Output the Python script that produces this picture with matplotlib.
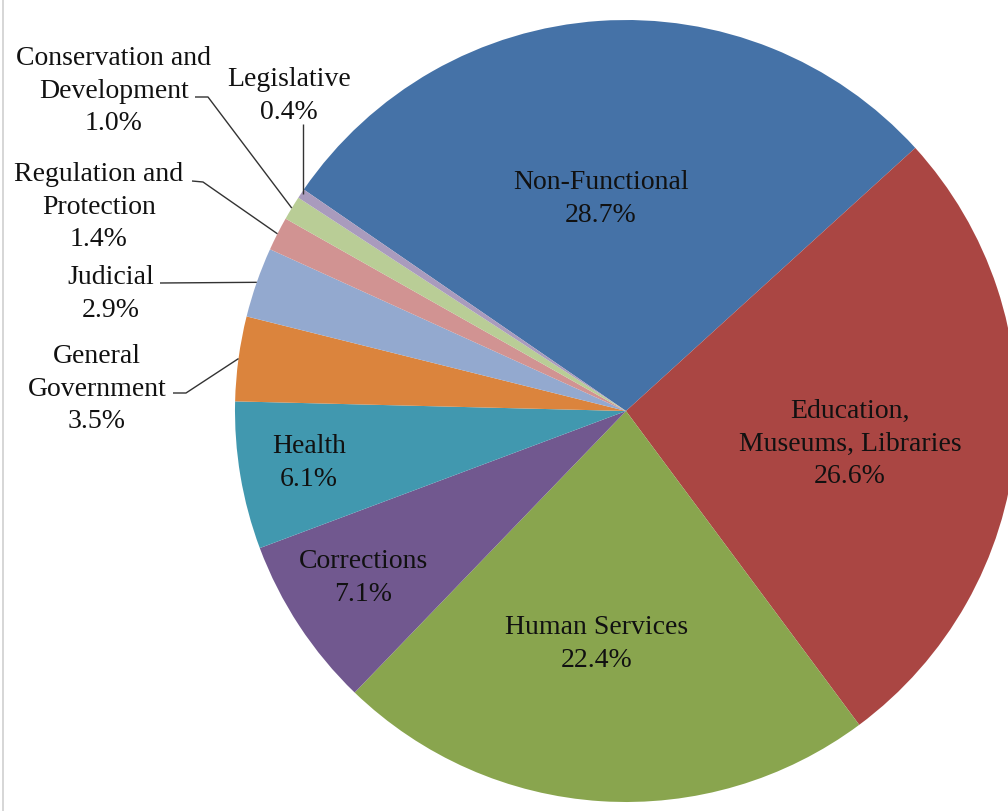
import matplotlib
matplotlib.use("Agg")
import matplotlib.pyplot as plt
from matplotlib.lines import Line2D
import numpy as np

# ---- data ----
categories = ["Non-Functional", "Education,\nMuseums, Libraries", "Human Services",
              "Corrections", "Health", "General\nGovernment", "Judicial",
              "Regulation and\nProtection", "Conservation and\nDevelopment", "Legislative"]
shares = [28.7, 26.6, 22.4, 7.1, 6.1, 3.5, 2.9, 1.4, 1.0, 0.4]
colors = ["#4572A7", "#AA4643", "#89A54E", "#71588F", "#4198AF",
          "#DB843D", "#93A9CF", "#D19392", "#B9CD96", "#A99BBD"]

W, H = 1008, 811
fig = plt.figure(figsize=(W / 100, H / 100), dpi=100)
ax = fig.add_axes([0, 0, 1, 1])

cx, cy_top, R = 626, 411, 391
cy = H - cy_top
start = 145.5

wedges, _ = ax.pie(shares, colors=colors, startangle=start, counterclock=False,
                   center=(cx, cy), radius=R, wedgeprops=dict(linewidth=0))
ax.set_xlim(0, W)
ax.set_ylim(0, H)
ax.set_aspect("equal")
ax.axis("off")

font = dict(family="Liberation Serif", fontsize=20, color="#111111",
            ha="center", va="center", linespacing=1.42)

# label block centres (pixel coords, y from top)
label_pos = [(601, 199), (850, 444), (597, 644), (363, 578), (309, 463),
             (97, 389), (111, 294), (99, 207), (114, 91), (289, 96)]
for name, val, (x, y) in zip(categories, shares, label_pos):
    ax.text(x, H - y, f"{name}\n{val:.1f}%", **font)

# leader lines for small slices: (index, text-end point, elbow point)
leaders = {
    5: [(173, 393), (186, 393)],
    6: [(160, 283), (160, 283)],
    7: [(192, 181), (203, 182)],
    8: [(195, 97), (208, 97)],
    9: [(303, 124), (303, 124)],
}
for i, pts in leaders.items():
    w = wedges[i]
    mid = np.deg2rad((w.theta1 + w.theta2) / 2)
    ex = cx + R * np.cos(mid)
    ey = cy + R * np.sin(mid)
    if i == 9:
        ex = pts[0][0]
    xs = [p[0] for p in pts] + [ex]
    ys = [H - p[1] for p in pts] + [ey]
    ax.plot(xs, ys, color="#333333", lw=1.0, solid_capstyle="butt")

fig.add_artist(Line2D([3 / W, 3 / W], [0, 1], color="#d0d0d0", lw=1.2,
                      transform=fig.transFigure))

fig.savefig("out.png", dpi=100)
